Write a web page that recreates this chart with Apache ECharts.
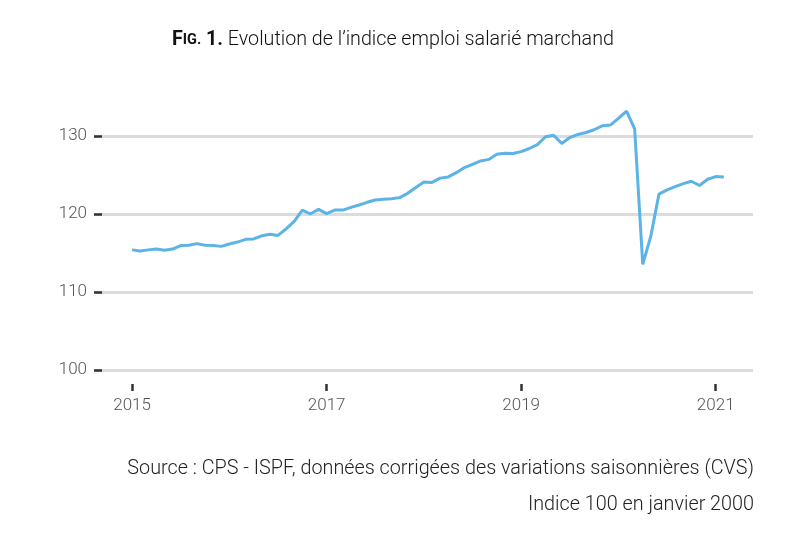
<!DOCTYPE html>
<html><head><meta charset="utf-8">
<script src="https://cdn.jsdelivr.net/npm/echarts@6/dist/echarts.min.js"></script>
<style>html,body{margin:0;padding:0;background:#fff}#c{width:800px;height:553px}</style>
</head><body><div id="c"></div>
<script>
// Monthly index, January 2015 to February 2021
const startYear = 2015;
const values = [
  115.4, 115.25, 115.4, 115.5, 115.35, 115.5, 115.95, 116.0, 116.2, 116.0, 115.95, 115.85,
  116.15, 116.4, 116.75, 116.8, 117.2, 117.4, 117.25, 118.1, 119.05, 120.5, 120.0, 120.6,
  120.05, 120.5, 120.5, 120.85, 121.15, 121.5, 121.8, 121.9, 121.95, 122.1, 122.65, 123.4,
  124.1, 124.05, 124.6, 124.75, 125.3, 125.95, 126.35, 126.8, 127.0, 127.65, 127.8, 127.75,
  128.0, 128.4, 128.9, 129.9, 130.1, 129.05, 129.8, 130.2, 130.45, 130.8, 131.3, 131.4,
  132.25, 133.2, 130.9, 113.55, 117.2, 122.55, 123.1, 123.5, 123.9, 124.2, 123.65, 124.45,
  124.8, 124.75
];
const xTickLabels = [2015, 2017, 2019, 2021];
const yTickLabels = [100, 110, 120, 130];
const titleText = 'Evolution de l’indice emploi salarié marchand';
const sourceText = 'Source : CPS - ISPF, données corrigées des variations saisonnières (CVS)';
const baseText = 'Indice 100 en janvier 2000';

const seriesData = values.map((v, i) => [startYear + i / 12, v]);

const chart = echarts.init(document.getElementById('c'), null, {renderer: 'canvas'});
chart.setOption({
  backgroundColor: '#fff',
  animation: false,
  textStyle: {fontFamily: 'Roboto'},
  title: [
    {
      text: '{b|F}{s|IG.}{b| 1.}{n| ' + titleText + '}',
      left: 167, top: 25,
      textStyle: {
        rich: {
          b: {fontFamily: 'Roboto', fontWeight: 'bold', fontSize: 19.7, color: '#111'},
          s: {fontFamily: 'Roboto', fontWeight: 'bold', fontSize: 14.5, color: '#111'},
          n: {fontFamily: 'Roboto', fontWeight: 300, fontSize: 19.7, color: '#111'}
        }
      }
    },
    {
      text: sourceText, right: 41, top: 454,
      textStyle: {fontFamily: 'Roboto', fontWeight: 300, fontSize: 19.8, color: '#222'}
    },
    {
      text: baseText, right: 41, top: 490,
      textStyle: {fontFamily: 'Roboto', fontWeight: 300, fontSize: 19.8, color: '#222'}
    }
  ],
  grid: {left: 94, right: 47, top: 97, bottom: 183, containLabel: false},
  xAxis: {
    type: 'value',
    min: 2015 - 4.7 / 12,
    max: 2015 + 76.6 / 12,
    offset: 14,
    axisLine: {show: false},
    splitLine: {show: false},
    axisTick: {show: true, customValues: xTickLabels, length: 7, lineStyle: {color: '#333', width: 2.5}},
    axisLabel: {customValues: xTickLabels, margin: 13, fontSize: 17, color: '#555', fontFamily: 'Roboto', fontWeight: 300,
      formatter: v => String(Math.round(v))}
  },
  yAxis: {
    type: 'value',
    min: 100, max: 135, interval: 10,
    axisLine: {show: false},
    axisTick: {show: true, inside: true, customValues: yTickLabels, length: 8, lineStyle: {color: '#333', width: 2.5}},
    axisLabel: {customValues: yTickLabels, margin: 7, fontSize: 17, color: '#555', fontFamily: 'Roboto', fontWeight: 300},
    splitLine: {show: true, lineStyle: {color: ['#dcdcdc', '#dcdcdc', '#dcdcdc', '#dcdcdc', 'rgba(0,0,0,0)'], width: 3}}
  },
  series: [{
    type: 'line',
    data: seriesData,
    showSymbol: false,
    symbol: 'none',
    lineStyle: {color: '#5bb3e6', width: 3},
    z: 5
  }]
});
</script>
</body></html>
